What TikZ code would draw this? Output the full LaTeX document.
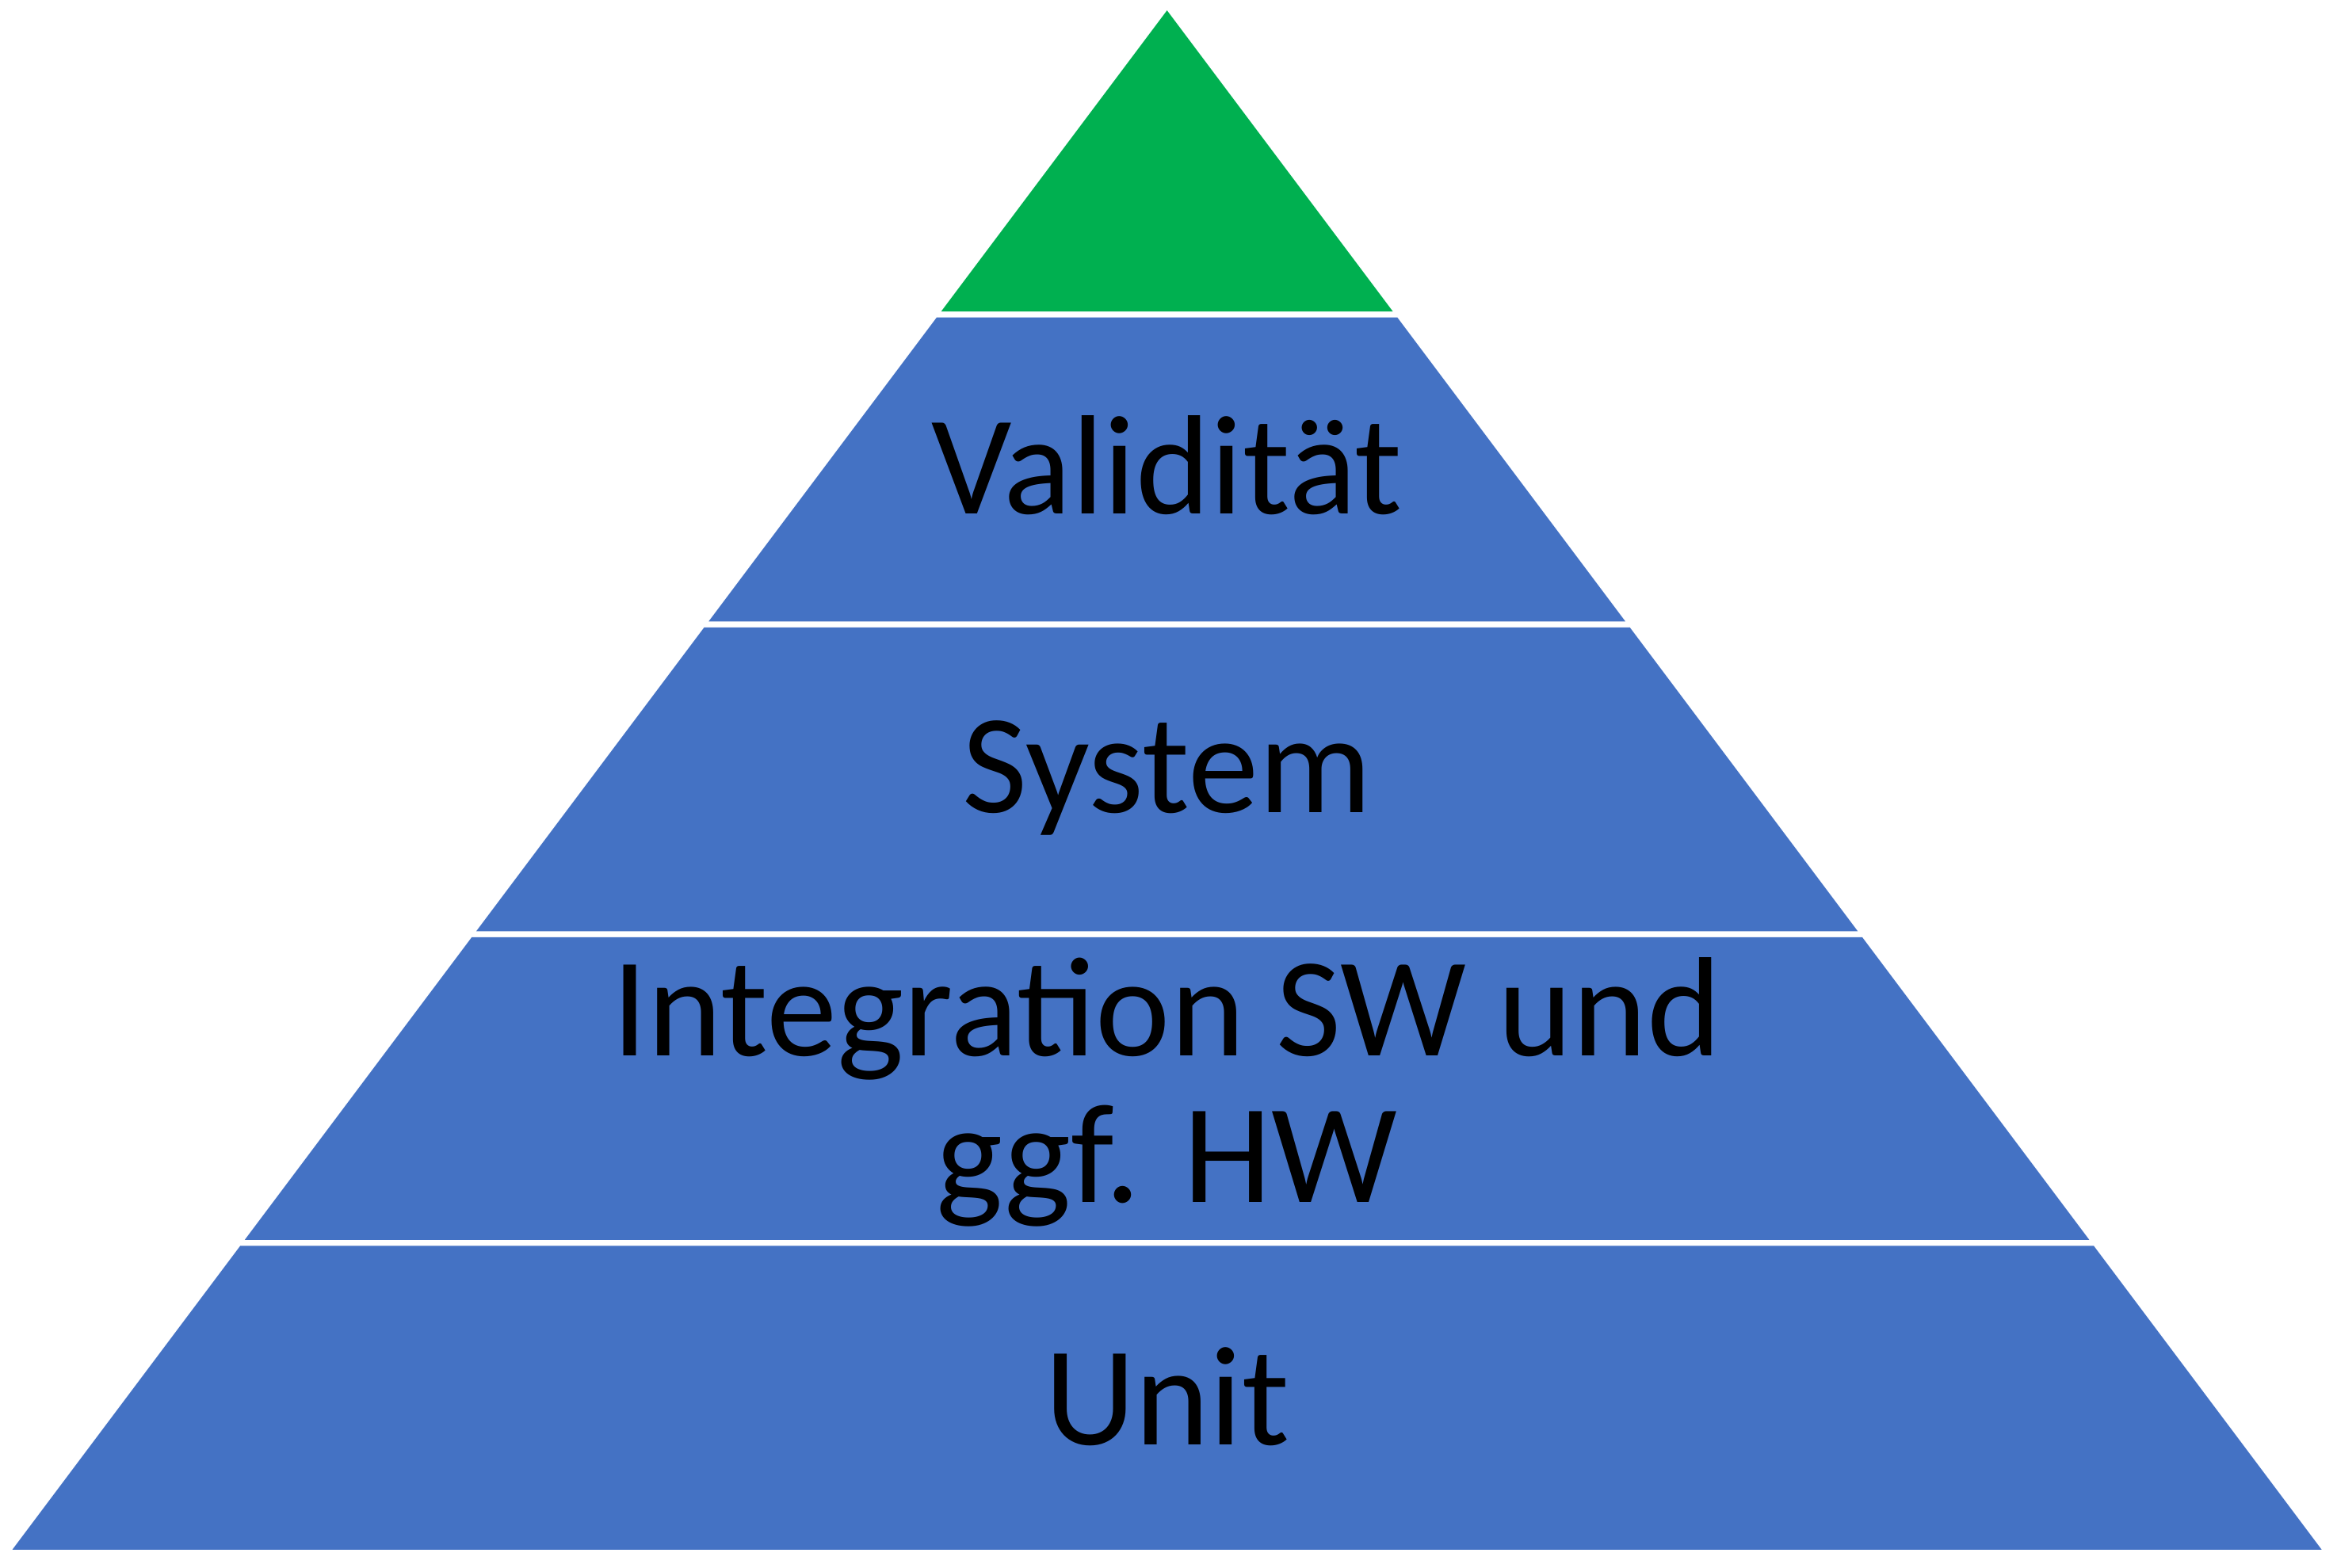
\documentclass[tikz,border=0pt]{standalone}
\usepackage{fontspec}
\setmainfont{Carlito}
\usetikzlibrary{positioning}
\definecolor{layerblue}{HTML}{4472C4}
\definecolor{topgreen}{HTML}{00B050}
\begin{document}
\begin{tikzpicture}[x=0.01cm,y=-0.01cm,
  layer/.style={fill=layerblue, draw=none},
  label/.style={font=\fontsize{27}{32}\selectfont, align=center, text=black}]
  \useasboundingbox (0,0) rectangle (1568,1052);
  % top
  \fill[topgreen] (783,7) -- (934.5,209) -- (631.5,209) -- cycle;
  % layers
  \foreach \ytop/\ybot in {213/417, 421/625, 629/832, 836/1040} {
    \pgfmathsetmacro{\lt}{783-0.75*(\ytop-7)}
    \pgfmathsetmacro{\rt}{783+0.75*(\ytop-7)}
    \pgfmathsetmacro{\lb}{783-0.75*(\ybot-7)}
    \pgfmathsetmacro{\rb}{783+0.75*(\ybot-7)}
    \fill[layer] (\lt,\ytop) -- (\rt,\ytop) -- (\rb,\ybot) -- (\lb,\ybot) -- cycle;
  }
  \node[label] (validity) at (783,312) {Validität};
  \node[label] (system) at (783,522) {System};
  \node[label] (integration) at (783,733) {Integration SW und\\[-4pt]ggf. HW};
  \node[label] (unit) at (783,937) {Unit};
\end{tikzpicture}
\end{document}
